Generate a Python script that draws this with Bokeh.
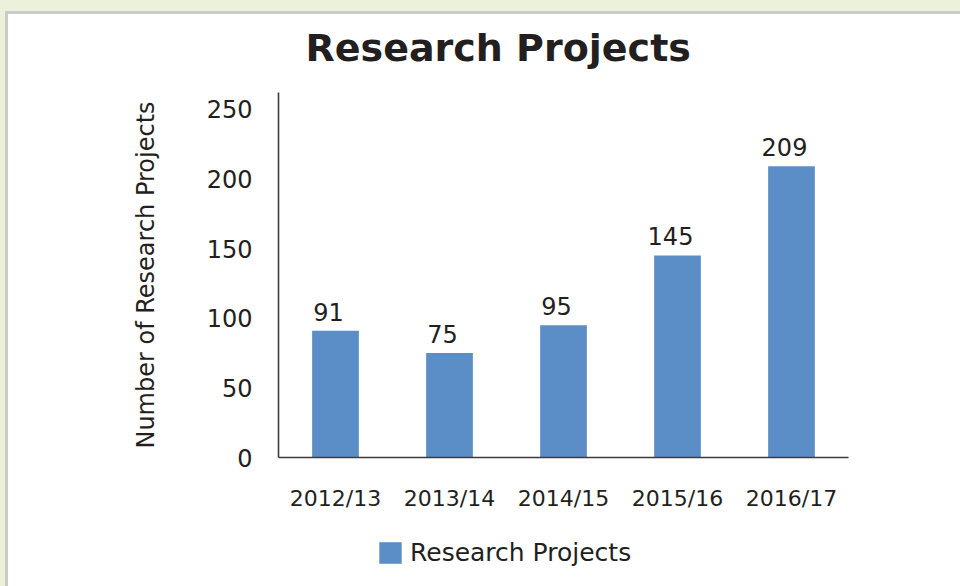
from bokeh.plotting import figure
from bokeh.layouts import column
from bokeh.models import Range1d, ColumnDataSource, LabelSet, Legend, LegendItem
from bokeh.core.properties import value
from bokeh.embed import file_html
from bokeh.resources import INLINE

categories = ["2012/13", "2013/14", "2014/15", "2015/16", "2016/17"]
projects = [91, 75, 95, 145, 209]
y_ticks = [0, 50, 100, 150, 200, 250]
series_name = "Research Projects"
chart_title = "Research Projects"
y_title = "Number of Research Projects"

TEXT = "#231F20"
BAR = "#5B8EC7"
FONT = "DejaVu Sans"

src = ColumnDataSource(dict(cat=categories, val=projects, lab=[str(v) for v in projects]))

p = figure(x_range=categories, y_range=Range1d(0, 262), width=960, height=520,
           output_backend="svg", toolbar_location=None,
           min_border_left=278, min_border_right=112, min_border_top=92, min_border_bottom=63)
p.outline_line_color = None
p.background_fill_color = "white"
p.border_fill_alpha = 0
p.grid.visible = False

# title
p.title.text = chart_title
p.title.align = "left"
p.title.offset = 27
p.title.standoff = 46
p.title.text_font = FONT
p.title.text_font_size = "38px"
p.title.text_font_style = "bold"
p.title.text_color = TEXT

r = p.vbar(x="cat", top="val", width=0.41, source=src, fill_color=BAR, line_color=None)

# axes
for ax in (p.xaxis[0], p.yaxis[0]):
    ax.major_tick_in = 0
    ax.major_tick_out = 0
    ax.minor_tick_in = 0
    ax.minor_tick_out = 0
    ax.axis_line_color = "#3C3C3C"
    ax.axis_line_width = 1.6
    ax.major_label_text_color = TEXT
    ax.major_label_text_font = FONT
p.xaxis.major_label_text_font_size = "22px"
p.xaxis.major_label_standoff = 28
p.yaxis.major_label_text_font_size = "24px"
p.yaxis.major_label_standoff = 26
p.yaxis.ticker = y_ticks
p.yaxis.axis_label = y_title
p.yaxis.axis_label_text_font = FONT
p.yaxis.axis_label_text_font_size = "24px"
p.yaxis.axis_label_text_font_style = "normal"
p.yaxis.axis_label_text_color = TEXT
p.yaxis.axis_label_standoff = 44

labels = LabelSet(x="cat", y="val", text="lab", source=src, text_align="center",
                  text_baseline="alphabetic", y_offset=10, x_offset=-7,
                  text_font=value(FONT), text_font_size="24px", text_color=TEXT)
p.add_layout(labels)

# legend strip (separate small figure so the legend is not clipped)
lg = figure(width=960, height=66, output_backend="svg", toolbar_location=None,
            x_range=Range1d(0, 1), y_range=Range1d(0, 1),
            x_axis_location=None, y_axis_location=None,
            min_border_left=278, min_border_right=112,
            min_border_top=0, min_border_bottom=0)
lg.outline_line_color = None
lg.grid.visible = False
lg.background_fill_alpha = 0
lg.border_fill_alpha = 0
# off-screen swatch renderer used only for the legend entry
r2 = lg.vbar(x=[-10], top=[0], width=0.5, fill_color=BAR, line_color=None)
legend = Legend(items=[LegendItem(label=series_name, renderers=[r2])],
                location=(98, 19), orientation="horizontal",
                glyph_width=28, glyph_height=27, label_standoff=6,
                label_text_font=FONT, label_text_font_size="25px", label_text_color=TEXT,
                padding=0, margin=0, border_line_alpha=0, background_fill_alpha=0)
lg.add_layout(legend, "center")

page = column(p, lg, spacing=0)
page.styles = {
    "background": "linear-gradient(#ffffff, #ffffff) 8px 14px / 100% 100% no-repeat, "
                  "linear-gradient(#C9CBC4, #C9CBC4) 5px 11px / 100% 100% no-repeat, "
                  "#EBF1DA",
}

open("out.html", "w").write(file_html(page, INLINE))
